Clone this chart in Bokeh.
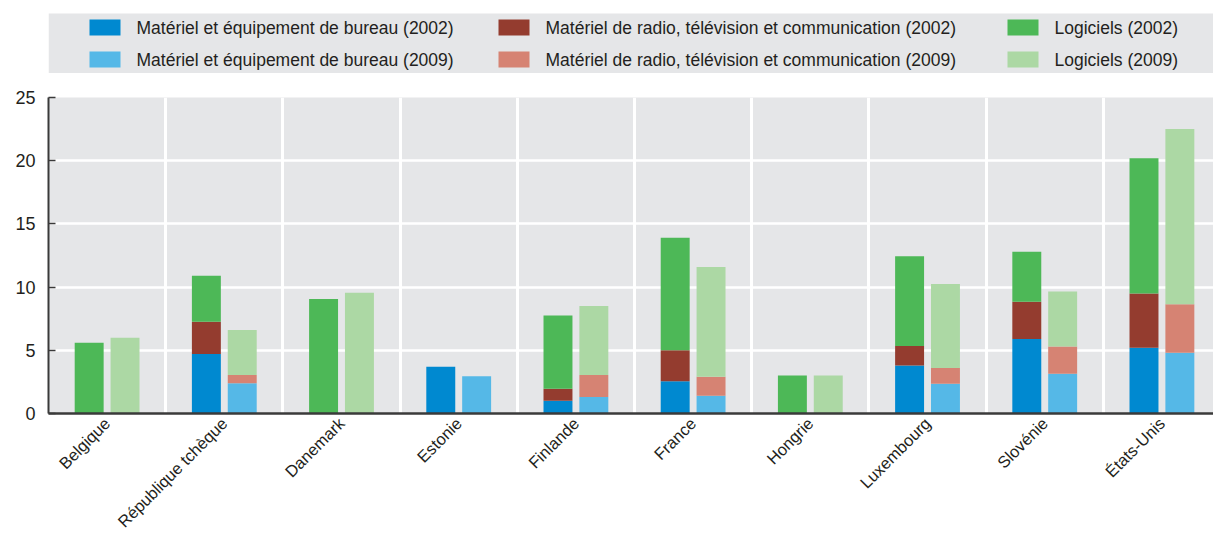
import math
from bokeh.plotting import figure
from bokeh.models import ColumnDataSource, Range1d, FixedTicker
from bokeh.layouts import column
from bokeh.transform import dodge
from bokeh.core.properties import value
from bokeh.embed import file_html
from bokeh.resources import INLINE

# ---------------- data ----------------
countries = ["Belgique", "République tchèque", "Danemark", "Estonie", "Finlande",
             "France", "Hongrie", "Luxembourg", "Slovénie", "États-Unis"]
office_2002 = [0.0, 4.7, 0.0, 3.7, 1.0, 2.55, 0.0, 3.8, 5.9, 5.2]
radio_2002 = [0.0, 2.55, 0.0, 0.0, 0.95, 2.45, 0.0, 1.55, 2.95, 4.3]
soft_2002 = [5.6, 3.65, 9.05, 0.0, 5.8, 8.9, 3.0, 7.1, 3.95, 10.7]
office_2009 = [0.0, 2.4, 0.0, 2.95, 1.3, 1.4, 0.0, 2.35, 3.15, 4.8]
radio_2009 = [0.0, 0.65, 0.0, 0.0, 1.75, 1.5, 0.0, 1.25, 2.15, 3.85]
soft_2009 = [6.0, 3.55, 9.55, 0.0, 5.45, 8.7, 3.0, 6.65, 4.35, 13.85]
y_ticks = [0, 5, 10, 15, 20, 25]

legend_labels = [
    ["Matériel et équipement de bureau (2002)", "Matériel et équipement de bureau (2009)"],
    ["Matériel de radio, télévision et communication (2002)", "Matériel de radio, télévision et communication (2009)"],
    ["Logiciels (2002)", "Logiciels (2009)"],
]

# ---------------- styles ----------------
C_OFF02, C_OFF09 = "#0089d0", "#55b8e7"
C_RAD02, C_RAD09 = "#943c2f", "#d68373"
C_SOF02, C_SOF09 = "#4db857", "#acd8a4"
BG = "#e5e6e8"
TXT = "#231f20"
FONT = "Liberation Sans"
W = 1213
LEFT = 48
LEG_H = 73

colors02 = [C_OFF02, C_RAD02, C_SOF02]
colors09 = [C_OFF09, C_RAD09, C_SOF09]

# ---------------- legend figure (data units = page pixels) ----------------
leg = figure(width=W, height=LEG_H, x_range=Range1d(LEFT, W), y_range=Range1d(0, LEG_H),
             output_backend="svg", toolbar_location=None,
             min_border_left=LEFT, min_border_right=0, min_border_top=0, min_border_bottom=0)
leg.axis.visible = False
leg.grid.visible = False
leg.outline_line_color = None
leg.background_fill_color = "white"
leg.border_fill_color = "white"
leg.quad(left=[LEFT], right=[W], bottom=[0], top=[60], fill_color=BG, line_color=None)

col_sq_left = [89, 498, 1007]
row_y = [LEG_H - 27, LEG_H - 59]
sq_x, sq_y, sq_c, tx_x, tx_y, tx_t = [], [], [], [], [], []
for ci in range(3):
    for ri in range(2):
        sq_x.append(col_sq_left[ci] + 15.5)
        sq_y.append(row_y[ri])
        sq_c.append((colors02 if ri == 0 else colors09)[ci])
        tx_x.append(col_sq_left[ci] + 47)
        tx_y.append(row_y[ri])
        tx_t.append(legend_labels[ci][ri])
leg.rect(x=sq_x, y=sq_y, width=31, height=16, fill_color=sq_c, line_color=None)
leg.text(x=tx_x, y=tx_y, text=tx_t, text_font=value(FONT), text_font_size="17.5px",
         text_color=TXT, text_baseline="middle", text_align="left")

# ---------------- main figure ----------------
xs = list(range(len(countries)))
src02 = ColumnDataSource(dict(x=xs, office=office_2002, radio=radio_2002, soft=soft_2002))
src09 = ColumnDataSource(dict(x=xs, office=office_2009, radio=radio_2009, soft=soft_2009))

p = figure(width=W, height=540 - LEG_H, x_range=Range1d(-0.5, 9.44), y_range=Range1d(0, 25),
           output_backend="svg", toolbar_location=None,
           min_border_left=LEFT, min_border_right=0, min_border_top=24, min_border_bottom=126)
p.background_fill_color = BG
p.border_fill_color = "white"
p.outline_line_color = None

BW = 0.247
p.vbar_stack(["office", "radio", "soft"], x=dodge("x", -0.153, range=p.x_range), width=BW,
             color=colors02, line_color=None, line_width=0, source=src02)
p.vbar_stack(["office", "radio", "soft"], x=dodge("x", 0.153, range=p.x_range), width=BW,
             color=colors09, line_color=None, line_width=0, source=src09)

# grids
p.ygrid.ticker = FixedTicker(ticks=[5, 10, 15, 20])
p.ygrid.grid_line_color = "white"
p.ygrid.grid_line_width = 2.5
p.xgrid.ticker = FixedTicker(ticks=[i + 0.5 for i in range(len(countries) - 1)])
p.xgrid.grid_line_color = "white"
p.xgrid.grid_line_width = 3
p.grid.level = "image"

# y axis
p.yaxis.ticker = FixedTicker(ticks=y_ticks)
p.yaxis.major_tick_in = 7
p.yaxis.major_tick_out = 0
p.yaxis.minor_tick_line_color = None
p.yaxis.axis_line_color = "#3a3a3a"
p.yaxis.axis_line_width = 2
p.yaxis.major_tick_line_color = "#3a3a3a"
p.yaxis.major_tick_line_width = 1.5
p.yaxis.major_label_text_font = FONT
p.yaxis.major_label_text_font_size = "18px"
p.yaxis.major_label_text_color = TXT
p.yaxis.major_label_standoff = 13

# x axis
p.xaxis.ticker = FixedTicker(ticks=xs)
p.xaxis.major_label_overrides = {i: c for i, c in zip(xs, countries)}
p.xaxis.major_tick_line_color = None
p.xaxis.minor_tick_line_color = None
p.xaxis.axis_line_color = "#3a3a3a"
p.xaxis.axis_line_width = 2.5
p.xaxis.major_label_orientation = math.pi / 4
p.xaxis.major_label_text_font = FONT
p.xaxis.major_label_text_font_size = "16.5px"
p.xaxis.major_label_text_color = TXT
p.xaxis.major_label_standoff = 1

layout = column(leg, p, spacing=0)
open("out.html", "w").write(file_html(layout, INLINE))
